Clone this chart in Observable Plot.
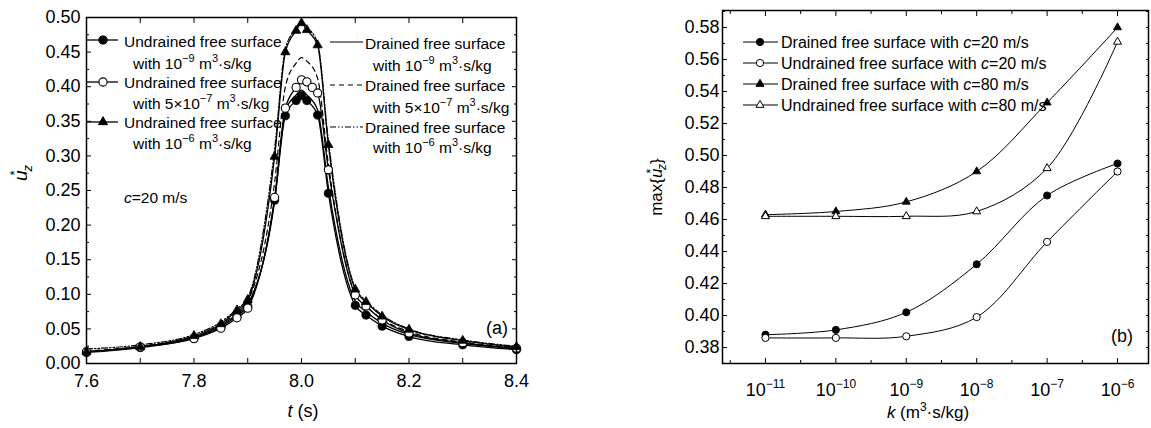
<!DOCTYPE html>
<html><head><meta charset="utf-8">
<script src="https://cdn.jsdelivr.net/npm/d3@7"></script>
<script src="https://cdn.jsdelivr.net/npm/@observablehq/plot@0.6"></script>
<style>
body{margin:0;background:#fff;}
#wrap{position:relative;width:1151px;height:428px;overflow:hidden;background:#fff;}
#pa,#pb{position:absolute;top:0;}
#pa{left:0;} #pb{left:560px;}
</style></head><body>
<div id="wrap"><div id="pa"></div><div id="pb"></div></div>
<script>
// ---------- Panel (a) data ----------
const tU9  = [7.6,7.7,7.8,7.85,7.88,7.9,7.95,7.97,7.99,8.0,8.01,8.03,8.05,8.1,8.12,8.15,8.2,8.3,8.4];
const uU9  = [0.016,0.023,0.037,0.053,0.069,0.083,0.236,0.358,0.380,0.387,0.380,0.359,0.246,0.084,0.070,0.054,0.039,0.027,0.020];
const tU57 = [7.6,7.7,7.8,7.85,7.88,7.9,7.95,7.97,7.99,8.0,8.01,8.02,8.03,8.05,8.1,8.12,8.15,8.2,8.3,8.4];
const uU57 = [0.017,0.024,0.036,0.051,0.066,0.080,0.240,0.369,0.399,0.410,0.407,0.399,0.391,0.280,0.099,0.083,0.063,0.044,0.030,0.022];
const tU6  = [7.6,7.7,7.8,7.85,7.88,7.9,7.95,7.97,7.99,8.0,8.01,8.03,8.05,8.1,8.12,8.15,8.2,8.3,8.4];
const uU6  = [0.017,0.024,0.040,0.057,0.077,0.092,0.299,0.450,0.481,0.492,0.482,0.460,0.316,0.107,0.089,0.068,0.049,0.033,0.024];
const tD   = [7.6,7.7,7.8,7.85,7.88,7.9,7.95,7.97,7.99,8.0,8.01,8.03,8.05,8.1,8.12,8.15,8.2,8.3,8.4];
const uD9  = [0.017,0.024,0.038,0.055,0.071,0.086,0.235,0.365,0.388,0.395,0.388,0.366,0.255,0.090,0.075,0.058,0.042,0.029,0.021];
const uD57 = [0.018,0.025,0.040,0.057,0.074,0.090,0.262,0.400,0.434,0.442,0.437,0.412,0.288,0.100,0.083,0.064,0.046,0.031,0.023];
const uD6  = [0.021,0.027,0.042,0.060,0.079,0.095,0.310,0.455,0.484,0.494,0.486,0.463,0.322,0.109,0.091,0.070,0.050,0.034,0.025];
const tTicksA   = [7.6,7.7,7.8,7.9,8.0,8.1,8.2,8.3,8.4];
const tLabelsA  = [7.6,7.8,8.0,8.2,8.4];
const uMajorA   = [0,0.05,0.10,0.15,0.20,0.25,0.30,0.35,0.40,0.45,0.50];
const uMinorA   = [0.025,0.075,0.125,0.175,0.225,0.275,0.325,0.375,0.425,0.475];

// ---------- Panel (b) data ----------
const kVals = [1e-11,1e-10,1e-9,1e-8,1e-7,1e-6];
const dr20 = [0.388,0.391,0.402,0.432,0.475,0.495];
const un20 = [0.386,0.386,0.387,0.399,0.446,0.490];
const dr80 = [0.463,0.465,0.471,0.490,0.533,0.580];
const un80 = [0.462,0.462,0.462,0.465,0.492,0.571];
const kMajor = [1e-11,1e-10,1e-9,1e-8,1e-7,1e-6];
const kMinor = [Math.pow(10,-11.5),Math.pow(10,-10.5),Math.pow(10,-9.5),Math.pow(10,-8.5),Math.pow(10,-7.5),Math.pow(10,-6.5)];
const kExp   = ["−11","−10","−9","−8","−7","−6"];
const yMajorB = [0.38,0.40,0.42,0.44,0.46,0.48,0.50,0.52,0.54,0.56,0.58];
const yMinorB = [0.37,0.39,0.41,0.43,0.45,0.47,0.49,0.51,0.53,0.55,0.57,0.59];

const FONT = '"Liberation Sans", Arial, Helvetica, sans-serif';
const zip = (xs, ys) => xs.map((x, i) => ({x, y: ys[i]}));
const blank = () => "";

// ---------- helpers for rich text ----------
function rich(sel, x, y, parts, fs, opts = {}) {
  const t = sel.append("text").attr("x", x).attr("y", y)
    .attr("font-family", FONT).attr("font-size", fs).attr("fill", "black")
    .attr("text-anchor", opts.anchor || "start");
  if (opts.transform) t.attr("transform", opts.transform);
  let shift = 0;
  for (const p of parts) {
    const s = t.append("tspan").text(p.t);
    let target = 0, size = fs;
    if (p.sup) { target = -Math.round(fs * 0.42); size = Math.round(fs * 0.68); }
    if (p.sub) { target = Math.round(fs * 0.25); size = Math.round(fs * 0.68); }
    s.attr("dy", target - shift).attr("font-size", size);
    if (p.dx) s.attr("dx", p.dx);
    shift = target;
    if (p.it) s.attr("font-style", "italic");
  }
  return t;
}

// ---------- Panel (a) ----------
const plotA = Plot.plot({
  width: 540, height: 428,
  marginLeft: 86, marginRight: 24, marginTop: 17, marginBottom: 65,
  style: {fontFamily: FONT, fontSize: "18px", color: "black", background: "white", overflow: "visible"},
  x: {domain: [7.6, 8.4]},
  y: {domain: [0, 0.5]},
  marks: [
    Plot.line(zip(tD, uD6),  {x: "x", y: "y", curve: "monotone-x", stroke: "black", strokeWidth: 1.2, strokeDasharray: "6,2,1.5,2,1.5,2"}),
    Plot.line(zip(tD, uD57), {x: "x", y: "y", curve: "monotone-x", stroke: "black", strokeWidth: 1.2, strokeDasharray: "5,4"}),
    Plot.line(zip(tD, uD9),  {x: "x", y: "y", curve: "monotone-x", stroke: "black", strokeWidth: 1.3}),
    Plot.line(zip(tU9, uU9),   {x: "x", y: "y", curve: "monotone-x", stroke: "black", strokeWidth: 1.3}),
    Plot.line(zip(tU57, uU57), {x: "x", y: "y", curve: "monotone-x", stroke: "black", strokeWidth: 1.3}),
    Plot.line(zip(tU6, uU6),   {x: "x", y: "y", curve: "monotone-x", stroke: "black", strokeWidth: 1.3}),
    Plot.dot(zip(tU9, uU9),   {x: "x", y: "y", r: 4.1, fill: "black", stroke: "black", strokeWidth: 0.8}),
    Plot.dot(zip(tU57, uU57), {x: "x", y: "y", r: 4.1, fill: "white", stroke: "black", strokeWidth: 1.1}),
    Plot.dot(zip(tU6, uU6),   {x: "x", y: "y", r: 3.4, symbol: "triangle", fill: "black", stroke: "black", strokeWidth: 0.8}),
    Plot.axisX(tLabelsA, {anchor: "bottom", tickSize: 0, tickPadding: 11, tickFormat: d => d.toFixed(1), label: null, fontSize: 18}),
    Plot.axisX(tTicksA, {anchor: "bottom", tickSize: -5, tickFormat: blank, label: null}),
    Plot.axisX(tTicksA, {anchor: "top", tickSize: -5, tickFormat: blank, label: null}),
    Plot.axisY(uMajorA, {anchor: "left", tickSize: -5, tickPadding: 11, tickFormat: d => d.toFixed(2), label: null, fontSize: 18}),
    Plot.axisY(uMinorA, {anchor: "left", tickSize: -3, tickFormat: blank, label: null}),
    Plot.axisY(uMajorA, {anchor: "right", tickSize: -5, tickFormat: blank, label: null}),
    Plot.axisY(uMinorA, {anchor: "right", tickSize: -3, tickFormat: blank, label: null}),
    Plot.frame({stroke: "black", strokeWidth: 1.5})
  ]
});
document.getElementById("pa").appendChild(plotA);

{
  const svg = d3.select(plotA);
  const g = svg.append("g");
  const sym = (type, r) => d3.symbol(type, Math.PI * r * r)();
  // Undrained legend (left column)
  const legU = [
    {ly: 40, y1: 41, y2: 63, e: "−9", pre: "with 10", kind: "fc"},
    {ly: 82, y1: 82, y2: 103, e: "−7", pre: "with 5×10", kind: "oc"},
    {ly: 122, y1: 122, y2: 143, e: "−6", pre: "with 10", kind: "tr"}
  ];
  for (const L of legU) {
    g.append("line").attr("x1", 87).attr("x2", 118).attr("y1", L.ly).attr("y2", L.ly).attr("stroke", "black").attr("stroke-width", 1.3);
    const p = g.append("path").attr("transform", `translate(103,${L.ly})`).attr("stroke", "black");
    if (L.kind === "fc") p.attr("d", sym(d3.symbolCircle, 4.1)).attr("fill", "black");
    if (L.kind === "oc") p.attr("d", sym(d3.symbolCircle, 4.1)).attr("fill", "white").attr("stroke-width", 1.1);
    if (L.kind === "tr") p.attr("d", sym(d3.symbolTriangle, 3.4)).attr("fill", "black");
    rich(g, 124, L.y1 + 5.5, [{t: "Undrained free surface"}], 15.5);
    rich(g, 133, L.y2 + 5.5, [{t: L.pre}, {t: L.e, sup: true}, {t: " m"}, {t: "3", sup: true}, {t: "·s/kg"}], 15.5);
  }
  // Drained legend (right column)
  const legD = [
    {ly: 42, y1: 43, y2: 65, e: "−9", pre: "with 10", dash: null},
    {ly: 85, y1: 85, y2: 107, e: "−7", pre: "with 5×10", dash: "5,4"},
    {ly: 127, y1: 127, y2: 147, e: "−6", pre: "with 10", dash: "6,2,1.5,2,1.5,2"}
  ];
  for (const L of legD) {
    const ln = g.append("line").attr("x1", 330).attr("x2", 363).attr("y1", L.ly).attr("y2", L.ly).attr("stroke", "black").attr("stroke-width", 1.2);
    if (L.dash) ln.attr("stroke-dasharray", L.dash);
    rich(g, 365, L.y1 + 5.5, [{t: "Drained free surface"}], 15.5);
    rich(g, 373, L.y2 + 5.5, [{t: L.pre}, {t: L.e, sup: true}, {t: " m"}, {t: "3", sup: true}, {t: "·s/kg"}], 15.5);
  }
  rich(g, 124, 203, [{t: "c", it: true}, {t: "=20 m/s"}], 15.5);
  rich(g, 508, 334, [{t: "(a)"}], 18, {anchor: "end"});
  rich(g, 303, 417, [{t: "t", it: true}, {t: " (s)"}], 18, {anchor: "middle"});
  rich(g, 0, 0, [{t: "u", it: true}, {t: "*", sup: true, dx: -5}, {t: "z", sub: true, dx: -1, it: true}], 19,
       {anchor: "middle", transform: "translate(27,173) rotate(-90)"});
}

// ---------- Panel (b) ----------
const plotB = Plot.plot({
  width: 591, height: 428,
  marginLeft: 162, marginRight: 3, marginTop: 10, marginBottom: 65,
  style: {fontFamily: FONT, fontSize: "18px", color: "black", background: "white", overflow: "visible"},
  x: {type: "log", domain: [Math.pow(10, -11.61), Math.pow(10, -5.56)]},
  y: {domain: [0.37, 0.5906]},
  marks: [
    Plot.line(zip(kVals, dr80), {x: "x", y: "y", curve: "catmull-rom", stroke: "black", strokeWidth: 1}),
    Plot.line(zip(kVals, un80), {x: "x", y: "y", curve: "catmull-rom", stroke: "black", strokeWidth: 1}),
    Plot.line(zip(kVals, dr20), {x: "x", y: "y", curve: "catmull-rom", stroke: "black", strokeWidth: 1}),
    Plot.line(zip(kVals, un20), {x: "x", y: "y", curve: "catmull-rom", stroke: "black", strokeWidth: 1}),
    Plot.dot(zip(kVals, dr20), {x: "x", y: "y", r: 3.6, fill: "black", stroke: "black", strokeWidth: 0.8}),
    Plot.dot(zip(kVals, un20), {x: "x", y: "y", r: 3.6, fill: "white", stroke: "black", strokeWidth: 1}),
    Plot.dot(zip(kVals, dr80), {x: "x", y: "y", r: 3.0, symbol: "triangle", fill: "black", stroke: "black", strokeWidth: 0.8}),
    Plot.dot(zip(kVals, un80), {x: "x", y: "y", r: 3.0, symbol: "triangle", fill: "white", stroke: "black", strokeWidth: 1}),
    Plot.axisX(kMajor, {anchor: "bottom", tickSize: -5, tickPadding: 25, tickFormat: d => "10^" + kExp[kMajor.findIndex(v => Math.abs(Math.log10(v) - Math.log10(d)) < 1e-6)], label: null, fontSize: 18}),
    Plot.axisX(kMinor, {anchor: "bottom", tickSize: -3, tickFormat: blank, label: null}),
    Plot.axisX(kMajor, {anchor: "top", tickSize: -5, tickFormat: blank, label: null}),
    Plot.axisX(kMinor, {anchor: "top", tickSize: -3, tickFormat: blank, label: null}),
    Plot.axisY(yMajorB, {anchor: "left", tickSize: -5, tickPadding: 8, tickFormat: d => d.toFixed(2), label: null, fontSize: 18}),
    Plot.axisY(yMinorB, {anchor: "left", tickSize: -3, tickFormat: blank, label: null}),
    Plot.axisY(yMajorB, {anchor: "right", tickSize: -3, tickFormat: blank, label: null}),
    Plot.axisY(yMinorB, {anchor: "right", tickSize: -3, tickFormat: blank, label: null}),
    Plot.frame({stroke: "black", strokeWidth: 1.5})
  ]
});
document.getElementById("pb").appendChild(plotB);

{
  const svg = d3.select(plotB);
  // superscript exponents on log tick labels
  svg.selectAll("text").each(function () {
    const s = this.textContent;
    if (s.startsWith("10^")) {
      const e = s.slice(3);
      const el = d3.select(this);
      el.text(null);
      el.append("tspan").text("10");
      el.append("tspan").text(e).attr("font-size", 12).attr("dy", -8);
    }
  });
  const g = svg.append("g");
  const sym = (type, r) => d3.symbol(type, Math.PI * r * r)();
  const leg = [
    {y: 42, kind: "fc", label: "Drained free surface with ", v: "=20 m/s"},
    {y: 63, kind: "oc", label: "Undrained free surface with ", v: "=20 m/s"},
    {y: 84, kind: "ft", label: "Drained free surface with ", v: "=80 m/s"},
    {y: 105, kind: "ot", label: "Undrained free surface with ", v: "=80 m/s"}
  ];
  for (const L of leg) {
    g.append("line").attr("x1", 183).attr("x2", 218).attr("y1", L.y).attr("y2", L.y).attr("stroke", "black").attr("stroke-width", 1);
    const p = g.append("path").attr("transform", `translate(200,${L.y})`).attr("stroke", "black");
    if (L.kind === "fc") p.attr("d", sym(d3.symbolCircle, 3.6)).attr("fill", "black");
    if (L.kind === "oc") p.attr("d", sym(d3.symbolCircle, 3.6)).attr("fill", "white");
    if (L.kind === "ft") p.attr("d", sym(d3.symbolTriangle, 3.0)).attr("fill", "black");
    if (L.kind === "ot") p.attr("d", sym(d3.symbolTriangle, 3.0)).attr("fill", "white");
    rich(g, 221, L.y + 6, [{t: L.label}, {t: "c", it: true}, {t: L.v}], 16);
  }
  rich(g, 573, 342, [{t: "(b)"}], 18, {anchor: "end"});
  rich(g, 368, 418, [{t: "k", it: true}, {t: " (m"}, {t: "3", sup: true}, {t: "·s/kg)"}], 17, {anchor: "middle"});
  rich(g, 0, 0, [{t: "max{"}, {t: "u", it: true}, {t: "*", sup: true, dx: -5}, {t: "z", sub: true, dx: -1, it: true}, {t: "}"}], 17,
       {anchor: "middle", transform: "translate(102,187) rotate(-90)"});
}
</script>
</body></html>
